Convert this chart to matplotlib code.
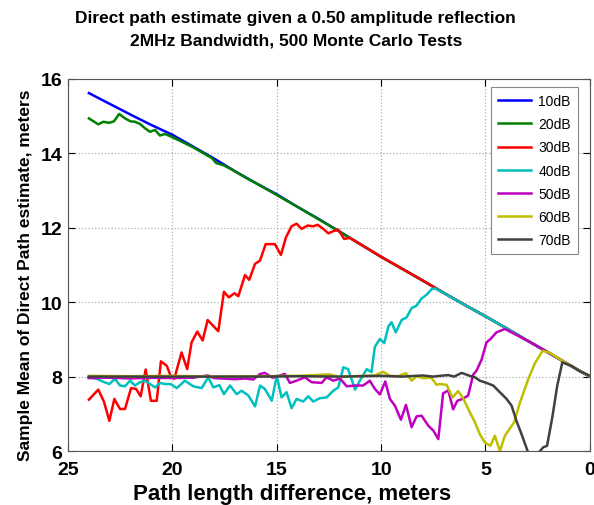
import matplotlib
matplotlib.use("Agg")
import matplotlib.pyplot as plt

# Estimaciones (x = diferencia de camino, y = media)
snr_labels = ["10dB", "20dB", "30dB", "40dB", "50dB", "60dB", "70dB"]

x_10 = [24, 23, 22, 21, 20, 19, 18, 17, 16, 15, 14, 13, 12, 11, 10, 9, 8, 7, 6, 5, 4, 3, 2, 1, 0]
y_10 = [15.62, 15.33, 15.04, 14.76, 14.50, 14.18, 13.86, 13.52, 13.20, 12.90, 12.56, 12.24, 11.90,
        11.56, 11.22, 10.90, 10.58, 10.25, 9.93, 9.62, 9.30, 8.97, 8.65, 8.32, 8.00]

x_20 = [24, 23.55, 23.3, 23.05, 22.8, 22.55, 22.27, 22.0, 21.8, 21.55, 21.3, 21.07, 20.83, 20.6,
        20.35, 20.1, 19.5, 19, 18.5, 18.1, 17.9, 17.55, 17.2, 16.5, 16, 15, 14, 13, 12, 11, 10,
        9, 8, 7, 6, 5, 4, 3, 2, 1, 0]
y_20 = [14.94, 14.78, 14.85, 14.82, 14.86, 15.06, 14.94, 14.86, 14.85, 14.79, 14.67, 14.58, 14.63,
        14.48, 14.52, 14.46, 14.30, 14.16, 14.00, 13.87, 13.74, 13.68, 13.58, 13.35, 13.20, 12.88,
        12.56, 12.23, 11.90, 11.56, 11.22, 10.90, 10.58, 10.25, 9.93, 9.62, 9.30, 8.97, 8.65, 8.32, 8.00]

x_30 = [24.0, 23.55, 23.28, 23.02, 22.78, 22.51, 22.27, 21.98, 21.74, 21.52, 21.28, 21.03, 20.75,
        20.55, 20.27, 20.08, 19.91, 19.56, 19.29, 19.08, 18.81, 18.55, 18.31, 17.80, 17.53, 17.29,
        17.03, 16.84, 16.52, 16.32, 16.04, 15.80, 15.53, 15.09, 14.80, 14.56, 14.29, 14.05, 13.81,
        13.52, 13.25, 13.04, 12.77, 12.53, 12.29, 12.05, 11.77, 11.50, 11, 10, 9, 8, 7, 6, 5, 4, 3,
        2, 1, 0]
y_30 = [7.38, 7.65, 7.33, 6.81, 7.40, 7.13, 7.13, 7.69, 7.67, 7.47, 8.19, 7.35, 7.35, 8.41, 8.29,
        8.02, 7.94, 8.65, 8.20, 8.92, 9.21, 8.97, 9.52, 9.22, 10.28, 10.13, 10.24, 10.16, 10.73,
        10.60, 11.03, 11.12, 11.56, 11.56, 11.27, 11.74, 12.04, 12.11, 11.97, 12.06, 12.04, 12.08,
        11.97, 11.85, 11.91, 11.95, 11.70, 11.73, 11.56, 11.22, 10.90, 10.58, 10.25, 9.93, 9.62,
        9.30, 8.97, 8.65, 8.32, 8.00]

x_40 = [24.03, 23.63, 23.31, 23.02, 22.75, 22.51, 22.27, 22.03, 21.79, 21.55, 21.31, 21.07, 20.83,
        20.59, 20.35, 20.08, 19.79, 19.40, 19.00, 18.60, 18.28, 18.04, 17.75, 17.53, 17.24, 16.92,
        16.68, 16.36, 16.04, 15.80, 15.57, 15.24, 15.00, 14.77, 14.53, 14.29, 14.05, 13.73, 13.49,
        13.25, 12.93, 12.61, 12.29, 12.05, 11.81, 11.58, 11.25, 11.02, 10.69, 10.46, 10.30, 10.06,
        9.85, 9.65, 9.50, 9.30, 9.02, 8.78, 8.54, 8.30, 8.06, 7.82, 7.58, 7.42, 7, 6, 5, 4, 3, 2,
        1, 0]
y_40 = [7.98, 7.94, 7.86, 7.80, 7.94, 7.76, 7.74, 7.89, 7.76, 7.85, 7.89, 7.80, 7.71, 7.83, 7.80,
        7.80, 7.69, 7.89, 7.74, 7.69, 7.98, 7.71, 7.77, 7.53, 7.76, 7.53, 7.62, 7.49, 7.20, 7.76,
        7.67, 7.35, 8.02, 7.44, 7.58, 7.15, 7.40, 7.33, 7.47, 7.33, 7.42, 7.44, 7.62, 7.71, 8.25,
        8.20, 7.65, 7.89, 8.20, 8.12, 8.80, 9.01, 8.90, 9.35, 9.46, 9.19, 9.52, 9.59, 9.84, 9.91,
        10.10, 10.20, 10.35, 10.37, 10.25, 9.93, 9.62, 9.30, 8.97, 8.65, 8.32, 8.00]

x_50 = [24, 23, 22, 21, 20, 19, 18.3, 18, 17, 16.5, 16.13, 15.80, 15.57, 15.2, 14.61, 14.37, 14.05,
        13.65, 13.33, 12.85, 12.61, 12.29, 11.97, 11.65, 11.25, 10.86, 10.54, 10.30, 10.06, 9.80,
        9.58, 9.34, 9.05, 8.81, 8.54, 8.30, 8.06, 7.74, 7.50, 7.26, 7.03, 6.78, 6.55, 6.35, 6.10,
        5.83, 5.59, 5.43, 5.19, 4.95, 4.76, 4.47, 4.07, 3, 2, 1, 0]
y_50 = [7.96, 7.97, 7.95, 7.97, 7.96, 7.97, 8.03, 7.96, 7.93, 7.95, 7.92, 8.07, 8.10, 7.97, 8.07,
        7.83, 7.89, 7.98, 7.85, 7.83, 7.98, 7.89, 7.95, 7.74, 7.76, 7.76, 7.89, 7.67, 7.52, 7.87,
        7.40, 7.22, 6.84, 7.24, 6.64, 6.93, 6.95, 6.68, 6.55, 6.32, 7.55, 7.63, 7.12, 7.35, 7.40,
        7.49, 8.05, 8.16, 8.45, 8.92, 9.01, 9.19, 9.28, 8.97, 8.65, 8.32, 8.00]

x_60 = [24, 22, 20, 18, 16, 14, 12.5, 12, 11, 10.3, 9.9, 9.58, 9.2, 8.81, 8.54, 8.3, 7.98, 7.6,
        7.34, 7.18, 6.86, 6.58, 6.31, 6.07, 5.75, 5.51, 5.27, 5.03, 4.76, 4.55, 4.31, 4.07, 3.63,
        3.35, 2.95, 2.63, 2.27, 1.96, 1.44, 1, 0]
y_60 = [8.02, 8.01, 8.02, 8.00, 8.01, 8.02, 8.06, 7.99, 8.02, 8.03, 8.13, 8.02, 8.01, 8.09, 7.89,
        8.01, 7.96, 7.97, 7.78, 7.80, 7.78, 7.44, 7.61, 7.42, 7.04, 6.78, 6.45, 6.23, 6.14, 6.41,
        6.00, 6.41, 6.77, 7.30, 7.93, 8.36, 8.69, 8.65, 8.47, 8.32, 8.00]

x_70 = [24, 22, 20, 18, 16, 14, 12, 10, 9, 8, 7.5, 7.18, 6.78, 6.5, 6.14, 5.75, 5.5, 5.27, 4.95,
        4.63, 4.31, 3.99, 3.75, 3.51, 3.27, 2.95, 2.47, 2.23, 2.05, 1.80, 1.56, 1.32, 0.9, 0.5, 0]
y_70 = [8.00, 8.00, 8.00, 8.00, 8.00, 8.01, 8.00, 8.02, 8.00, 8.03, 8.00, 8.02, 8.04, 8.00, 8.10,
        8.02, 7.98, 7.89, 7.83, 7.76, 7.58, 7.40, 7.22, 6.80, 6.45, 5.95, 5.95, 6.10, 6.14, 6.90,
        7.76, 8.38, 8.29, 8.15, 8.02]

series_x = [x_10, x_20, x_30, x_40, x_50, x_60, x_70]
series_y = [y_10, y_20, y_30, y_40, y_50, y_60, y_70]

# colores tipo MATLAB
colores = [(0, 0, 1), (0, 0.5, 0), (1, 0, 0), (0, 0.75, 0.75), (0.75, 0, 0.75),
           (0.75, 0.75, 0), (0.25, 0.25, 0.25)]

plt.rcParams['font.family'] = ['Liberation Sans', 'DejaVu Sans']

fig = plt.figure(figsize=(5.94, 5.06), dpi=100)
ax = fig.add_axes([0.1145, 0.1067, 0.8785, 0.7353])

for xs, ys, c, lab in zip(series_x, series_y, colores, snr_labels):
    ax.plot(xs, ys, color=c, linewidth=1.8, label=lab)

ax.set_xlim(25, 0)
ax.set_ylim(6, 16)
ax.set_xticks([25, 20, 15, 10, 5, 0])
ax.set_yticks([6, 8, 10, 12, 14, 16])
ax.grid(True, linestyle=':', color='#b0b0b0', linewidth=0.9)
ax.tick_params(direction='in', top=True, right=True, length=5, labelsize=14)
ax.tick_params(axis='x', pad=7)
ax.tick_params(axis='y', pad=4)
for lbl in ax.get_xticklabels() + ax.get_yticklabels():
    lbl.set_fontweight('bold')
for sp in ax.spines.values():
    sp.set_color('#555555')

# titulo en dos lineas, centrado como en la figura original
fig.text(0.498, 0.978, 'Direct path estimate given a 0.50 amplitude reflection\n'
         '2MHz Bandwidth, 500 Monte Carlo Tests',
         ha='center', va='top', fontsize=12.5, fontweight='bold', linespacing=1.6)

ax.set_xlabel('Path length difference, meters', fontsize=16, fontweight='bold')
ax.xaxis.set_label_coords(0.43, -0.085)
ax.set_ylabel('Sample Mean of Direct Path estimate, meters', fontsize=12.5, fontweight='bold')
ax.yaxis.set_label_coords(-0.068, 0.476)

leg = ax.legend(loc='upper right', bbox_to_anchor=(0.977, 0.978), borderaxespad=0,
                fontsize=10, fancybox=False, framealpha=1, edgecolor='#888888',
                handlelength=2.4, labelspacing=0.66, handletextpad=0.5, borderpad=0.5)
leg.get_frame().set_linewidth(0.8)

fig.savefig('out.png', dpi=100)
